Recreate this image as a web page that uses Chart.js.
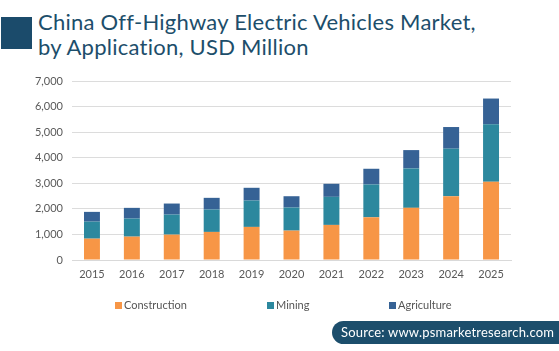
<!DOCTYPE html>
<html>
<head>
<meta charset="utf-8">
<script src="https://cdn.jsdelivr.net/npm/chart.js@4"></script>
<style>
  body { margin: 0; width: 559px; height: 351px; background: #fff; position: relative; overflow: hidden; font-family: Lato, sans-serif; }
  #mark { position: absolute; left: 1px; top: 17px; width: 31px; height: 32px; background: #1b4b6b; }
  #title { position: absolute; left: 38px; top: 9px; font-size: 22px; line-height: 25px; letter-spacing: 0.25px; color: #1d4e6b; white-space: nowrap; }
  #legend { position: absolute; top: 298px; left: 0; width: 559px; height: 16px; font-size: 11px; color: #555; }
  #legend span { position: absolute; white-space: nowrap; }
  #legend i { display: inline-block; width: 7px; height: 7px; margin-right: 2px; }
  #source { position: absolute; left: 332px; top: 321px; width: 240px; height: 23px; border-radius: 12px; background: #1c4e6c; color: #fff; font-size: 13px; line-height: 23px; letter-spacing: 0.2px; padding-left: 9px; box-sizing: border-box; }
  #wrap { position: absolute; left: 0; top: 0; width: 559px; height: 351px; }
</style>
</head>
<body>
<div id="mark"></div>
<div id="title">China Off-Highway Electric Vehicles Market,<br>by Application, USD Million</div>
<div id="wrap"><canvas id="myChart"></canvas></div>
<div id="legend"></div>
<div id="source">Source: www.psmarketresearch.com</div>
<script>
const years = ['2015', '2016', '2017', '2018', '2019', '2020', '2021', '2022', '2023', '2024', '2025'];
const construction = [835, 914, 992, 1098, 1294, 1149, 1372, 1671, 2039, 2494, 3059];
const mining = [667, 706, 784, 875, 1031, 902, 1098, 1282, 1541, 1859, 2247];
const agriculture = [380, 419, 432, 458, 499, 443, 510, 615, 718, 847, 1008];
const seriesNames = ['Construction', 'Mining', 'Agriculture'];
const seriesColors = ['#f79646', '#2c889e', '#366295'];
const legendLeft = [115, 267, 389];

function initChart(ctx) {
  const values = [construction, mining, agriculture];
  const data = {
    labels: years,
    datasets: seriesNames.map((name, i) => ({
      label: name,
      data: values[i],
      backgroundColor: seriesColors[i],
      borderWidth: 0,
      barPercentage: 0.4,
      categoryPercentage: 1
    }))
  };

  const config = {
    type: 'bar',
    data: data,
    options: {
      responsive: false,
      animation: false,
      layout: { padding: { top: 81, right: 48, bottom: 0, left: 0 } },
      plugins: { legend: { display: false }, tooltip: { enabled: false } },
      scales: {
        x: {
          stacked: true,
          grid: { display: false },
          border: { color: '#d9d9d9' },
          ticks: { color: '#595959', font: { family: 'Lato', size: 11 }, padding: 0 },
          afterFit: (s) => { s.height = 91; }
        },
        y: {
          stacked: true,
          min: 0,
          max: 7000,
          grid: { color: '#dcdcdc', drawTicks: false },
          border: { display: false },
          ticks: { stepSize: 1000, color: '#595959', font: { family: 'Lato', size: 11 }, padding: 9 },
          afterFit: (s) => { s.width = 72; }
        }
      }
    }
  };

  return new Chart(ctx, config);
}

function buildLegend() {
  const box = document.getElementById('legend');
  seriesNames.forEach((name, i) => {
    const item = document.createElement('span');
    item.style.left = legendLeft[i] + 'px';
    item.innerHTML = '<i style="background:' + seriesColors[i] + '"></i>' + name;
    box.appendChild(item);
  });
}

const canvas = document.querySelector('#myChart');
canvas.width = 559;
canvas.height = 351;
initChart(canvas);
buildLegend();
</script>
</body>
</html>
